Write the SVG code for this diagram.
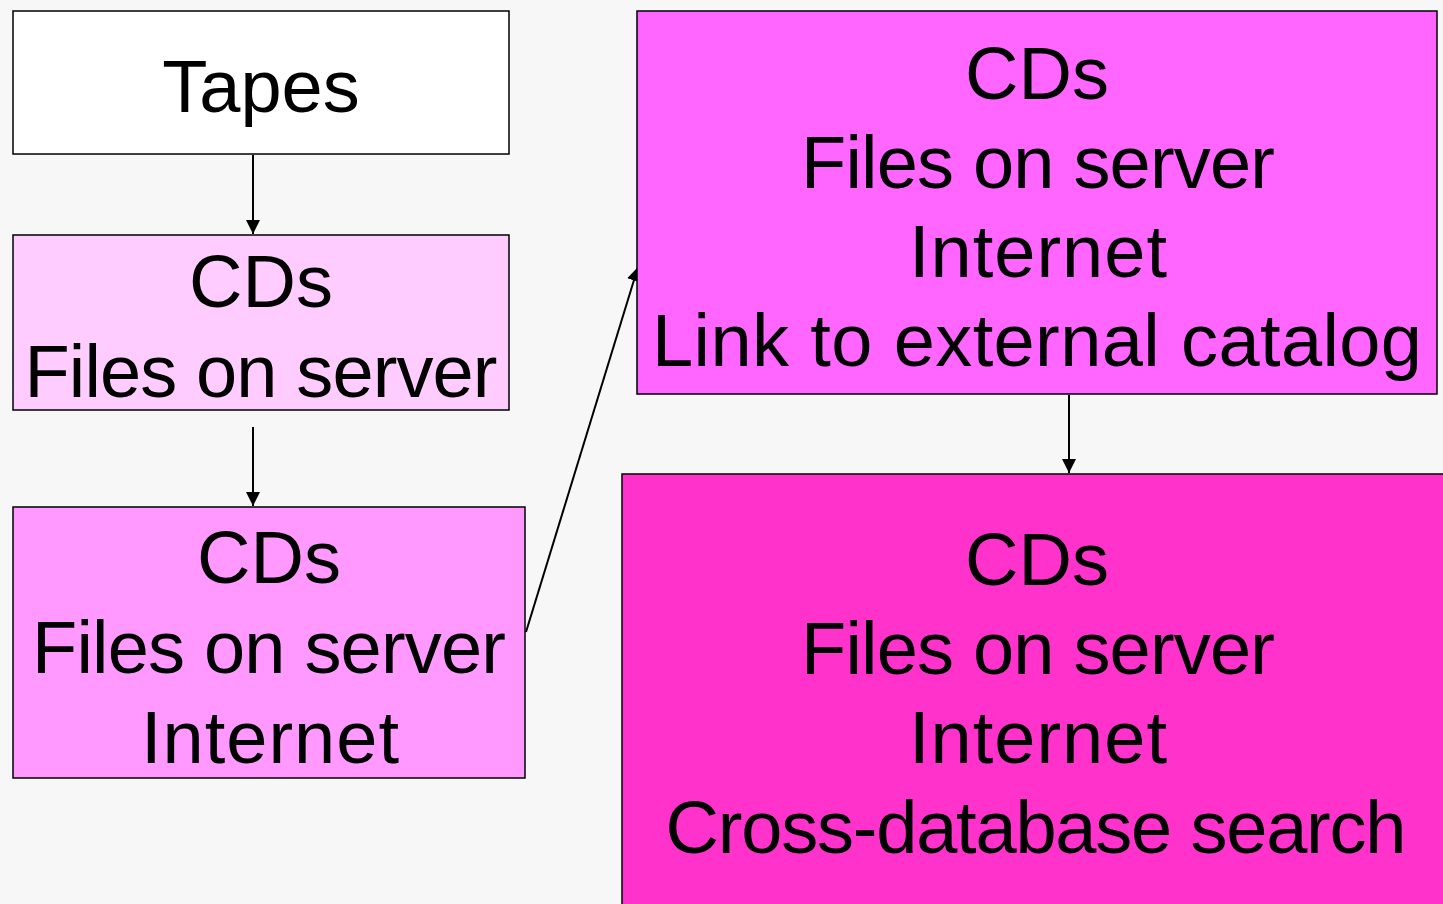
<svg xmlns="http://www.w3.org/2000/svg" width="1443" height="904" viewBox="0 0 1443 904">
<defs>
<marker id="ah" markerWidth="14" markerHeight="14" refX="14" refY="7" orient="auto" markerUnits="userSpaceOnUse">
<path d="M0,0 L14,7 L0,14 Z" fill="#000"/>
</marker>
</defs>
<style>
.box{stroke:#000;stroke-width:1.5}
.t{font-family:"Liberation Sans",Arial,sans-serif;font-size:74px;fill:#000;text-anchor:middle}
.c{stroke:#000;stroke-width:2;fill:none;marker-end:url(#ah)}
</style>
<rect width="1443" height="904" fill="#F7F7F7"/>
<g id="connectors">
<line class="c" x1="253" y1="155" x2="253" y2="234"/>
<line class="c" x1="253" y1="427" x2="253" y2="506"/>
<line class="c" x1="526" y1="632" x2="638" y2="267"/>
<line class="c" x1="1069" y1="395" x2="1069" y2="473"/>
</g>
<g id="tapes">
<rect class="box" x="13" y="11" width="496" height="143" fill="#FFFFFF"/>
<text class="t" x="261" y="112">Tapes</text>
</g>
<g id="cds1">
<rect class="box" x="13" y="235" width="496" height="175" fill="#FFCCFF"/>
<text class="t" x="261" y="307">CDs</text>
<text class="t" x="261" y="397" textLength="473">Files on server</text>
</g>
<g id="cds2">
<rect class="box" x="13" y="507" width="512" height="271" fill="#FF99FF"/>
<text class="t" x="269" y="583">CDs</text>
<text class="t" x="269" y="673" textLength="474">Files on server</text>
<text class="t" x="270" y="763" textLength="258">Internet</text>
</g>
<g id="cds3">
<rect class="box" x="637" y="11" width="800" height="383" fill="#FF66FF"/>
<text class="t" x="1037" y="99">CDs</text>
<text class="t" x="1038" y="188" textLength="474">Files on server</text>
<text class="t" x="1038" y="277" textLength="258">Internet</text>
<text class="t" x="1037" y="366" textLength="770">Link to external catalog</text>
</g>
<g id="cds4">
<rect class="box" x="622" y="474" width="830" height="440" fill="#FF33CC"/>
<text class="t" x="1037" y="585">CDs</text>
<text class="t" x="1038" y="674" textLength="474">Files on server</text>
<text class="t" x="1038" y="763" textLength="258">Internet</text>
<text class="t" x="1036" y="853" textLength="741">Cross-database search</text>
</g>
</svg>
